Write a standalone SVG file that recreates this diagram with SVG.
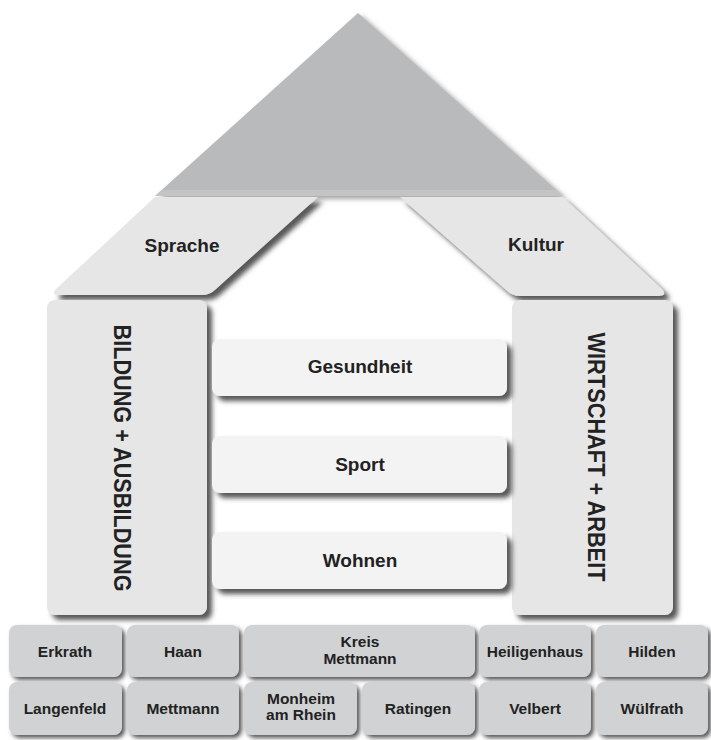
<svg xmlns="http://www.w3.org/2000/svg" width="711" height="740" viewBox="0 0 711 740">
<defs>
<filter id="sh" x="-10%" y="-10%" width="130%" height="130%">
<feDropShadow dx="5" dy="5" stdDeviation="2.5" flood-color="#3a3a3a" flood-opacity="0.85"/>
</filter>
<filter id="shs" x="-10%" y="-10%" width="130%" height="130%">
<feDropShadow dx="4" dy="3" stdDeviation="2.5" flood-color="#666" flood-opacity="0.6"/>
</filter>
<filter id="sht" x="-10%" y="-10%" width="130%" height="130%">
<feDropShadow dx="3" dy="3" stdDeviation="2" flood-color="#333" flood-opacity="0.8"/>
</filter>
<style>
.roof{fill:#b9babc;}
.beam{fill:#e6e6e7;}
.pillar{fill:#e6e6e7;}
.bar{fill:#f3f3f4;}
.tile{fill:#d1d2d4;}
text{font-family:"Liberation Sans",Arial,sans-serif;fill:#222;text-anchor:middle;}
.b{font-weight:bold;font-size:19px;}
.t{font-weight:bold;font-size:15.5px;}
.v{font-size:24px;font-weight:bold;}
</style>
</defs>
<g id="roof">
<polygon class="roof" points="358,13 563,196 155,196" filter="url(#shs)"/>
<polygon points="161.7,190 556.4,190 563,196 155,196" fill="#c3c4c6"/>
</g>
<g id="sprache">
<path class="beam" filter="url(#sh)" d="M155,197 L318,197 L216,289 Q210,295 202,295 L60,295 Q50,295 56,289 Z"/>
<text class="b" x="182" y="252">Sprache</text>
</g>
<g id="kultur">
<path class="beam" filter="url(#sh)" d="M400,197 L563,197 L662,289 Q668,296 658,296 L520,296 Q512,296 506,290 Z"/>
<text class="b" x="536" y="251">Kultur</text>
</g>
<g id="bildung">
<rect class="pillar" x="47" y="300" width="160" height="315" rx="8" filter="url(#sh)"/>
<text class="v" transform="translate(114,458) rotate(90)" textLength="267" lengthAdjust="spacingAndGlyphs">BILDUNG + AUSBILDUNG</text>
</g>
<g id="wirtschaft">
<rect class="pillar" x="512" y="300" width="161" height="315" rx="8" filter="url(#sh)"/>
<text class="v" transform="translate(588,457) rotate(90)" textLength="249" lengthAdjust="spacingAndGlyphs">WIRTSCHAFT + ARBEIT</text>
</g>
<g id="gesundheit">
<rect class="bar" x="212" y="339" width="295" height="57" rx="8" filter="url(#sh)"/>
<text class="b" x="360" y="373">Gesundheit</text>
</g>
<g id="sport">
<rect class="bar" x="212" y="436" width="295" height="57" rx="8" filter="url(#sh)"/>
<text class="b" x="360" y="471">Sport</text>
</g>
<g id="wohnen">
<rect class="bar" x="212" y="532" width="295" height="57" rx="8" filter="url(#sh)"/>
<text class="b" x="360" y="567">Wohnen</text>
</g>
<g id="erkrath"><rect class="tile" x="9" y="625" width="113" height="52" rx="8" filter="url(#sht)"/><text class="t" x="65" y="657">Erkrath</text></g>
<g id="haan"><rect class="tile" x="127" y="625" width="112" height="52" rx="8" filter="url(#sht)"/><text class="t" x="183" y="657">Haan</text></g>
<g id="kreis"><rect class="tile" x="244" y="625" width="231" height="52" rx="8" filter="url(#sht)"/><text class="t" x="360" y="647">Kreis</text><text class="t" x="360" y="664">Mettmann</text></g>
<g id="heiligenhaus"><rect class="tile" x="479" y="625" width="112" height="52" rx="8" filter="url(#sht)"/><text class="t" x="535" y="657">Heiligenhaus</text></g>
<g id="hilden"><rect class="tile" x="596" y="625" width="112" height="52" rx="8" filter="url(#sht)"/><text class="t" x="652" y="657">Hilden</text></g>
<g id="langenfeld"><rect class="tile" x="9" y="682" width="113" height="53" rx="8" filter="url(#sht)"/><text class="t" x="65" y="714">Langenfeld</text></g>
<g id="mettmann"><rect class="tile" x="127" y="682" width="112" height="53" rx="8" filter="url(#sht)"/><text class="t" x="183" y="714">Mettmann</text></g>
<g id="monheim"><rect class="tile" x="244" y="682" width="113" height="53" rx="8" filter="url(#sht)"/><text class="t" x="301" y="704">Monheim</text><text class="t" x="301" y="720">am Rhein</text></g>
<g id="ratingen"><rect class="tile" x="362" y="682" width="113" height="53" rx="8" filter="url(#sht)"/><text class="t" x="418" y="714">Ratingen</text></g>
<g id="velbert"><rect class="tile" x="479" y="682" width="112" height="53" rx="8" filter="url(#sht)"/><text class="t" x="535" y="714">Velbert</text></g>
<g id="wuelfrath"><rect class="tile" x="596" y="682" width="112" height="53" rx="8" filter="url(#sht)"/><text class="t" x="652" y="714">Wülfrath</text></g>
<g id="connectors"></g>
</svg>
